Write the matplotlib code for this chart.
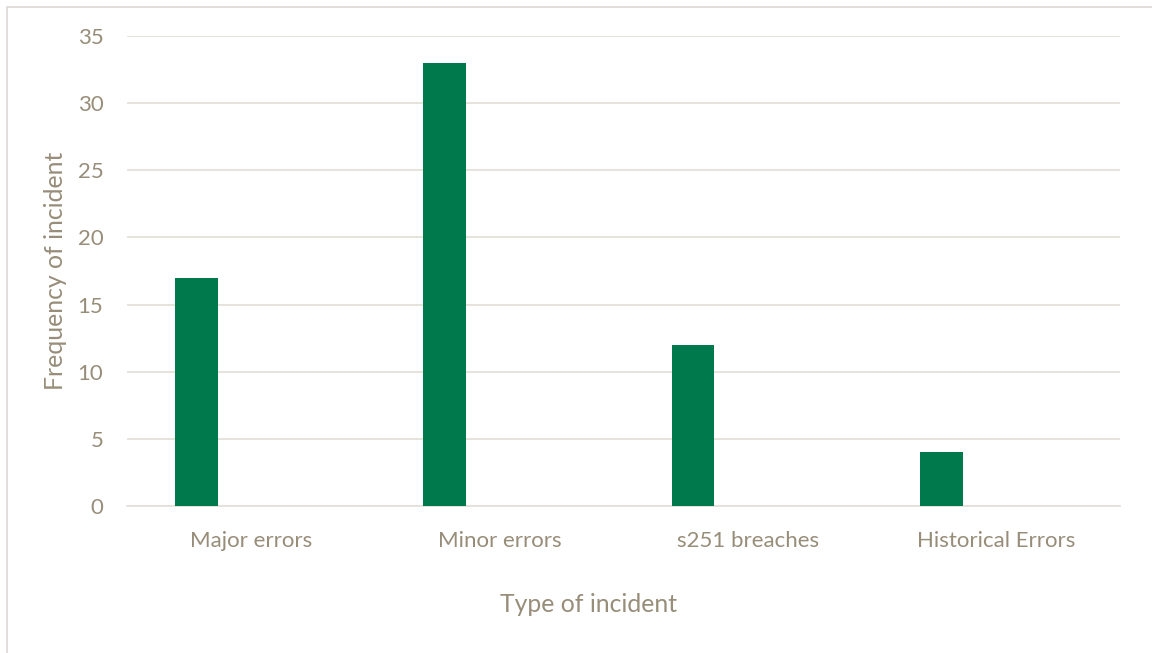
import matplotlib
matplotlib.use("Agg")
import matplotlib.pyplot as plt
from matplotlib.patches import Rectangle

categories = ["Major errors", "Minor errors", "s251 breaches", "Historical Errors"]
counts = [17, 33, 12, 4]
y_ticks = [0, 5, 10, 15, 20, 25, 30, 35]

bar_green = "#007A4D"
text_tan = "#978D79"
grid_grey = "#E4E0DA"

plt.rcParams["font.family"] = ["Lato", "DejaVu Sans"]

fig = plt.figure(figsize=(11.52, 6.53), dpi=100)
ax = fig.add_axes([127 / 1152, 147 / 653, 993 / 1152, 470 / 653])

# chart border like the Excel chart area
fig.patches.append(Rectangle((7 / 1152, -0.1), 1.2, (646 / 653) + 0.1,
                             transform=fig.transFigure, fill=False,
                             edgecolor="#DDD9D3", linewidth=1.2))

x = range(len(categories))
ax.bar([i - 0.22 for i in x], counts, width=0.173, color=bar_green, zorder=3)

ax.set_xlim(-0.5, len(categories) - 0.5)
ax.set_ylim(0, 35)
ax.set_yticks(y_ticks)
ax.set_xticks(list(x))
ax.set_xticklabels(categories)
ax.yaxis.grid(True, color=grid_grey, linewidth=1.3)
ax.set_axisbelow(True)
for side in ["top", "right", "left"]:
    ax.spines[side].set_visible(False)
ax.spines["bottom"].set_color(grid_grey)
ax.spines["bottom"].set_linewidth(1.3)
ax.tick_params(axis="both", length=0, colors=text_tan, labelsize=16)
ax.tick_params(axis="x", pad=18)
ax.tick_params(axis="y", pad=17)

ax.set_xlabel("Type of incident", color=text_tan, fontsize=17.8)
ax.xaxis.set_label_coords(0.465, -0.185)
ax.set_ylabel("Frequency of incident", color=text_tan, fontsize=17.8, labelpad=8)

fig.savefig("out.png", dpi=100, facecolor="white")
